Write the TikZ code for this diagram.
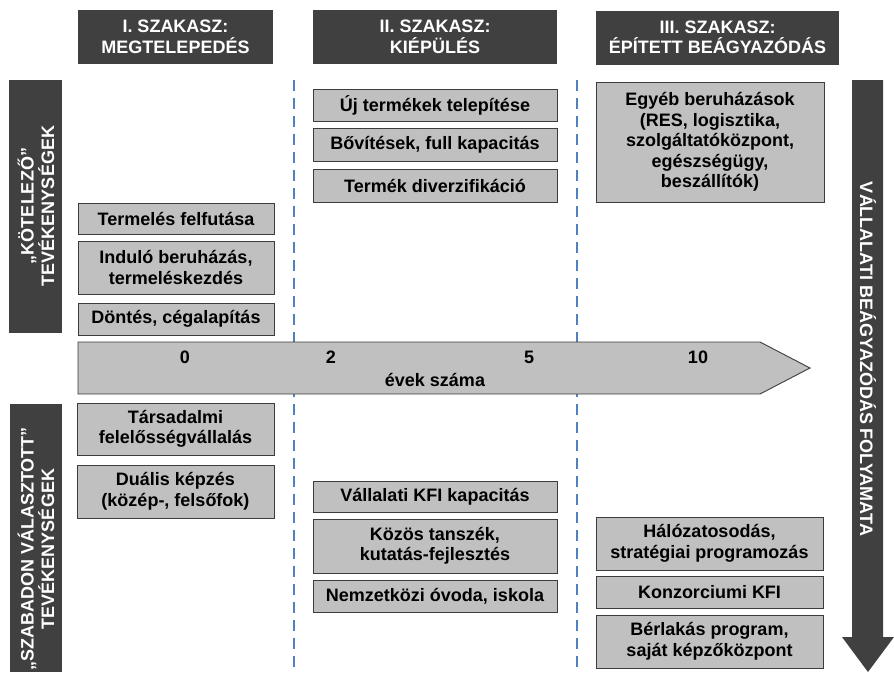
\documentclass[tikz,border=0pt]{standalone}
\usepackage{fontspec}
\setmainfont{Liberation Sans}
\definecolor{hdrfill}{RGB}{64,64,64}
\definecolor{boxfill}{RGB}{192,192,192}
\definecolor{boxline}{RGB}{60,60,60}
\definecolor{dashblue}{RGB}{79,129,189}
\begin{document}
\begin{tikzpicture}[x=1pt,y=-1pt,
  txt/.style={font=\bfseries\fontsize{18}{20.5}\selectfont},
  box/.style={txt, draw=boxline, fill=boxfill, line width=0.9pt, align=center, inner sep=0pt, text=black},
  hdr/.style={txt, fill=hdrfill, text=white, align=center, inner sep=0pt},
  sidebar/.style={fill=hdrfill},
  sidetext/.style={txt, text=white, align=center, inner sep=0pt},
  phaseline/.style={draw=dashblue, line width=2.6pt, dash pattern=on 11pt off 7pt},
  timeline/.style={draw=boxline, fill=boxfill, line width=0.9pt},
  tick/.style={txt, text=black, inner sep=0pt}
]
\useasboundingbox (0,0) rectangle (894,672);

% phase headers
\node[hdr, minimum width=195pt, minimum height=54pt] (h1) at (175.5,37) {I. SZAKASZ:\\MEGTELEPEDÉS};
\node[hdr, minimum width=244pt, minimum height=54pt] (h2) at (435,37) {II. SZAKASZ:\\KIÉPÜLÉS};
\node[hdr, minimum width=243pt, minimum height=54pt] (h3) at (717.5,37.5) {III. SZAKASZ:\\ÉPÍTETT BEÁGYAZÓDÁS};

% phase separators
\coordinate (s1t) at (294,80);
\coordinate (s1b) at (294,672);
\coordinate (s2t) at (577,80);
\coordinate (s2b) at (577,672);
\draw[phaseline] (s1t) -- (s1b);
\draw[phaseline] (s2t) -- (s2b);

% left side bars
\fill[sidebar] (9,80) rectangle (62,333);
\node[sidetext, rotate=90] (kot) at (36,206) {„KÖTELEZŐ”\\TEVÉKENYSÉGEK};
\fill[sidebar] (10,404) rectangle (62,672);
\node[sidetext, rotate=90] (szab) at (36,549) {„SZABADON VÁLASZTOTT”\\TEVÉKENYSÉGEK};

% right process arrow
\fill[sidebar] (852,80) -- (883,80) -- (883,637) -- (894,637) -- (868,672) -- (842,637) -- (852,637) -- cycle;
\node[sidetext, rotate=-90] (proc) at (868,359) {VÁLLALATI BEÁGYAZÓDÁS FOLYAMATA};

% timeline
\draw[timeline] (78,342) -- (760,342) -- (810,368) -- (760,394) -- (78,394) -- cycle;
\node[tick] (t0) at (185,357) {0};
\node[tick] (t2) at (331,357) {2};
\node[tick] (t5) at (529,357) {5};
\node[tick] (t10) at (698,357) {10};
\node[tick] (evek) at (435,380) {évek száma};

% phase I boxes
\node[box, minimum width=196pt, minimum height=31pt] (felfut) at (176,218.5) {Termelés felfutása};
\node[box, minimum width=196pt, minimum height=53pt] (indulo) at (176,267.5) {Induló beruházás,\\termeléskezdés};
\node[box, minimum width=196pt, minimum height=32pt] (dontes) at (176,319) {Döntés, cégalapítás};
\node[box, minimum width=197pt, minimum height=52pt] (tarsad) at (175.5,429) {Társadalmi\\felelősségvállalás};
\node[box, minimum width=197pt, minimum height=53pt] (dualis) at (175.5,491.5) {Duális képzés\\(közép-, felsőfok)};

% phase II boxes
\node[box, minimum width=244pt, minimum height=32pt] (uj) at (435,105) {Új termékek telepítése};
\node[box, minimum width=244pt, minimum height=33pt] (bovit) at (435,144.5) {Bővítések, full kapacitás};
\node[box, minimum width=244pt, minimum height=33pt] (diverz) at (435,185.5) {Termék diverzifikáció};
\node[box, minimum width=244pt, minimum height=31pt] (vkfi) at (435,496.5) {Vállalati KFI kapacitás};
\node[box, minimum width=244pt, minimum height=54pt] (kozos) at (435,546) {Közös tanszék,\\kutatás-fejlesztés};
\node[box, minimum width=244pt, minimum height=32pt] (nemzet) at (435,596) {Nemzetközi óvoda, iskola};

% phase III boxes
\node[box, minimum width=228pt, minimum height=120pt] (egyeb) at (710,142) {Egyéb beruházások\\(RES, logisztika,\\szolgáltatóközpont,\\egészségügy,\\beszállítók)};
\node[box, minimum width=227pt, minimum height=53pt] (halo) at (709.5,543.5) {Hálózatosodás,\\stratégiai programozás};
\node[box, minimum width=227pt, minimum height=32pt] (konz) at (709.5,592) {Konzorciumi KFI};
\node[box, minimum width=227pt, minimum height=53pt] (berl) at (709.5,641.5) {Bérlakás program,\\saját képzőközpont};
\end{tikzpicture}
\end{document}
